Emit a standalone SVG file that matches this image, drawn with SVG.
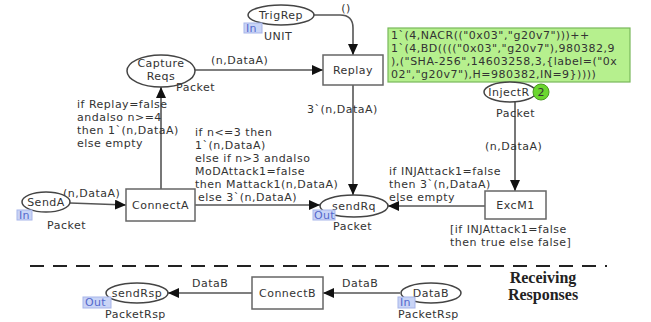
<svg xmlns="http://www.w3.org/2000/svg" width="651" height="322" viewBox="0 0 651 322">
<style>
text{font-family:"DejaVu Sans",Verdana,sans-serif;font-size:11px;letter-spacing:0.5px;fill:#333}
.m{text-anchor:middle}
.pl{fill:#fff;stroke:#444;stroke-width:1.5}
.tr{fill:#fff;stroke:#666;stroke-width:1.5}
.arc{fill:none;stroke:#555;stroke-width:1.6}
.tagr{fill:#c9d4f6;stroke:#a7b5ea;stroke-width:1}
.tag{fill:#5468cc;letter-spacing:0.3px}
.bold{font-family:"Liberation Serif","Times New Roman",serif;font-weight:bold;font-size:16px;letter-spacing:0;fill:#222}
</style>
<defs>
<marker id="ah" markerUnits="userSpaceOnUse" markerWidth="12" markerHeight="10" refX="11" refY="5" orient="auto">
<path d="M0,0 L11,5 L0,10 z" fill="#111"/>
</marker>
</defs>
<g id="connectors">
<path class="arc" d="M314,15 L340,15 Q353,15 353,28 L353,55" marker-end="url(#ah)"/>
<text x="346" y="12" class="m">()</text>
<path class="arc" d="M195,70 L323,70" marker-end="url(#ah)"/>
<text x="211" y="64">(n,DataA)</text>
<path class="arc" d="M161,189 L161,87" marker-end="url(#ah)"/>
<text x="77" y="108">if Replay=false</text>
<text x="77" y="121">andalso n&gt;=4</text>
<text x="77" y="134">then 1`(n,DataA)</text>
<text x="77" y="147">else empty</text>
<path class="arc" d="M70,203 L126,205" marker-end="url(#ah)"/>
<text x="63" y="197">(n,DataA)</text>
<path class="arc" d="M195,205 L320,205" marker-end="url(#ah)"/>
<text x="195" y="136">if n&lt;=3 then</text>
<text x="195" y="149">1`(n,DataA)</text>
<text x="195" y="162">else if n&gt;3 andalso</text>
<text x="195" y="175">MoDAttack1=false</text>
<text x="195" y="188">then Mattack1(n,DataA)</text>
<text x="198" y="201">else 3`(n,DataA)</text>
<path class="arc" d="M353,85 L353,195" marker-end="url(#ah)"/>
<text x="307" y="113">3`(n,DataA)</text>
<path class="arc" d="M515,101 L515,191" marker-end="url(#ah)"/>
<text x="485" y="150">(n,DataA)</text>
<path class="arc" d="M485,206 L388,206" marker-end="url(#ah)"/>
<text x="389" y="175">if INJAttack1=false</text>
<text x="389" y="188">then 3`(n,DataA)</text>
<text x="389" y="201">else empty</text>
<path class="arc" d="M252,293 L168,293" marker-end="url(#ah)"/>
<text x="192" y="287">DataB</text>
<path class="arc" d="M400,293 L323,293" marker-end="url(#ah)"/>
<text x="342" y="287">DataB</text>
</g>
<g id="TrigRep">
<ellipse class="pl" cx="281" cy="15" rx="33" ry="10"/>
<text x="281" y="19" class="m">TrigRep</text>
<rect class="tagr" x="244" y="23" width="18" height="10"/>
<text x="246" y="32" class="tag">In</text>
<text x="264" y="40">UNIT</text>
</g>
<g id="Replay">
<rect class="tr" x="323" y="55" width="60" height="30"/>
<text x="353" y="74" class="m">Replay</text>
</g>
<g id="CaptureReqs">
<ellipse class="pl" cx="161" cy="71" rx="34" ry="16"/>
<text x="161" y="67" class="m">Capture</text>
<text x="161" y="80" class="m">Reqs</text>
<text x="176" y="91">Packet</text>
</g>
<g id="ConnectA">
<rect class="tr" x="126" y="189" width="69" height="32"/>
<text x="160.5" y="209" class="m">ConnectA</text>
</g>
<g id="SendA">
<ellipse class="pl" cx="46" cy="202" rx="24" ry="10"/>
<text x="46" y="206" class="m">SendA</text>
<rect class="tagr" x="17" y="210" width="15" height="10"/>
<text x="19" y="219" class="tag">In</text>
<text x="47" y="229">Packet</text>
</g>
<g id="sendRq">
<ellipse class="pl" cx="354" cy="206" rx="34" ry="11"/>
<text x="354" y="210" class="m">sendRq</text>
<rect class="tagr" x="313" y="210" width="22" height="10"/>
<text x="314" y="219" class="tag">Out</text>
<text x="333" y="230">Packet</text>
</g>
<g id="marking">
<rect x="388" y="28" width="242" height="54" fill="#b6f08e" stroke="#78b85a" stroke-width="1.2"/>
<text x="391" y="39">1`(4,NACR(("0x03","g20v7")))++</text>
<text x="391" y="52">1`(4,BD(((("0x03","g20v7"),980382,9</text>
<text x="391" y="65">),("SHA-256",14603258,3,{label=("0x</text>
<text x="391" y="78">02","g20v7"),H=980382,IN=9}))))</text>
</g>
<g id="InjectR">
<ellipse class="pl" cx="510" cy="92" rx="26" ry="10"/>
<text x="509" y="96" class="m">InjectR</text>
<circle cx="541" cy="92" r="8" fill="#6bd62e" stroke="#4a9a20" stroke-width="1"/>
<text x="541" y="96" class="m" style="letter-spacing:0">2</text>
<text x="496" y="117">Packet</text>
</g>
<g id="ExcM1">
<rect class="tr" x="485" y="191" width="61" height="28"/>
<text x="515.5" y="209" class="m">ExcM1</text>
<text x="450" y="233">[if INJAttack1=false</text>
<text x="450" y="246">then true else false]</text>
</g>
<path d="M30,266 L607,266" stroke="#222" stroke-width="2.2" stroke-dasharray="14 9"/>
<g id="sendRsp">
<ellipse class="pl" cx="137" cy="293" rx="31" ry="10"/>
<text x="137" y="297" class="m">sendRsp</text>
<rect class="tagr" x="83" y="297" width="28" height="11"/>
<text x="85" y="306" class="tag">Out</text>
<text x="105" y="318">PacketRsp</text>
</g>
<g id="ConnectB">
<rect class="tr" x="252" y="277" width="71" height="32"/>
<text x="287.5" y="297" class="m">ConnectB</text>
</g>
<g id="DataB">
<ellipse class="pl" cx="431" cy="293" rx="30" ry="10"/>
<text x="431" y="297" class="m">DataB</text>
<rect class="tagr" x="398" y="297" width="17" height="11"/>
<text x="400" y="306" class="tag">In</text>
<text x="398" y="318">PacketRsp</text>
</g>
<text x="543" y="283" class="bold m">Receiving</text>
<text x="543" y="300" class="bold m">Responses</text>
</svg>
